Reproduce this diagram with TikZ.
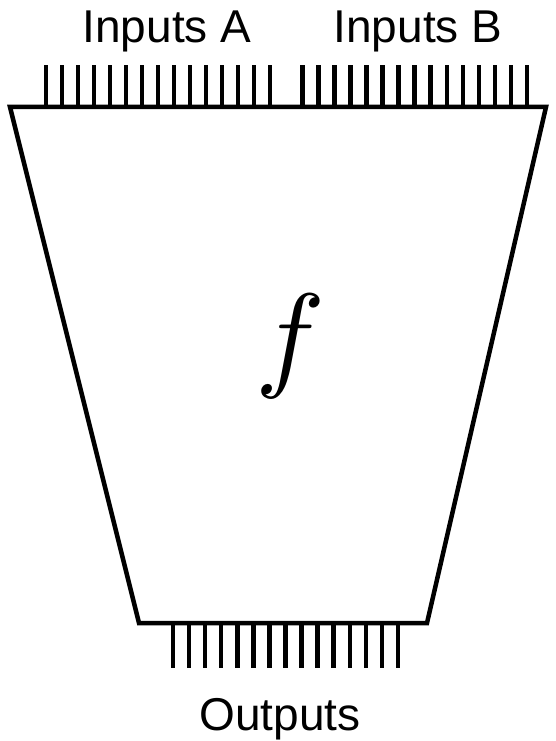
\documentclass[tikz,border=0pt]{standalone}
\usepackage{fontspec}
\setmainfont{Liberation Sans}
\begin{document}
\begin{tikzpicture}[x=1pt,y=-1pt,
  frame/.style={line width=4.5pt,line join=miter},
  tick/.style={line width=4.5pt},
  lbl/.style={font=\fontsize{46}{46}\selectfont,inner sep=0pt,anchor=base}]
\useasboundingbox (0,0) rectangle (555,741);
\coordinate (tl) at (10,107);
\coordinate (tr) at (546,107);
\coordinate (br) at (427,623);
\coordinate (bl) at (139,623);
\draw[frame] (tl) -- (tr) -- (br) -- (bl) -- cycle;
\foreach \i in {0,...,14}{
  \coordinate (a\i) at (46+16*\i,107);
  \coordinate (at\i) at (46+16*\i,65);
  \draw[tick] (a\i) -- (at\i);
  \coordinate (b\i) at (302.5+16.03*\i,107);
  \coordinate (bt\i) at (302.5+16.03*\i,65);
  \draw[tick] (b\i) -- (bt\i);
  \coordinate (c\i) at (173+16.07*\i,623);
  \coordinate (ct\i) at (173+16.07*\i,668);
  \draw[tick] (c\i) -- (ct\i);
}
\node[lbl] (inA) at (167,43) {Inputs A};
\node[lbl] (inB) at (418,43) {Inputs B};
\node[lbl] (out) at (280,730) {Outputs};
\node[inner sep=0pt,scale=11.7] (f) at (290,346) {$f$};
\end{tikzpicture}
\end{document}
